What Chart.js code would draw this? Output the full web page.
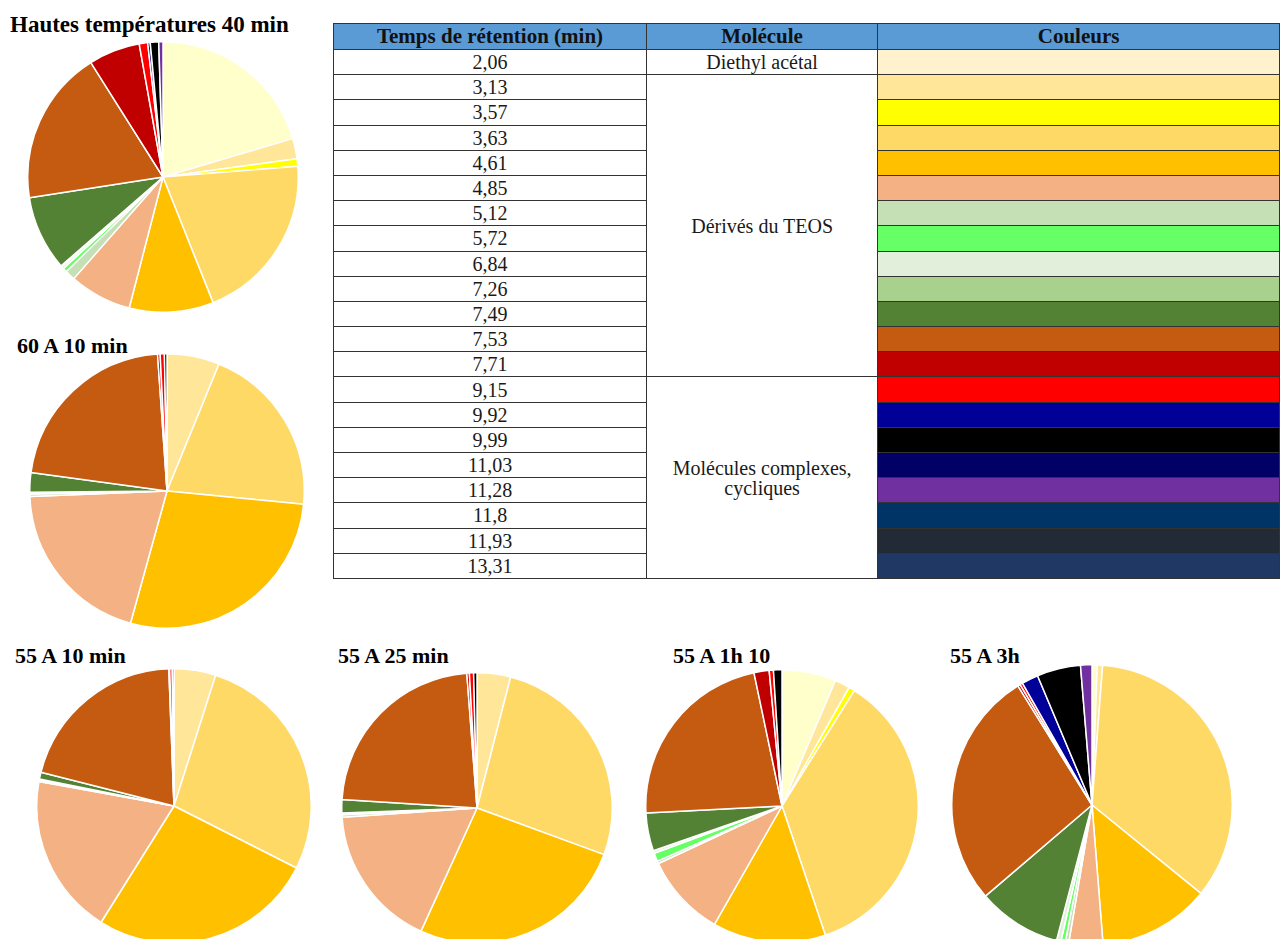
<!DOCTYPE html>
<html lang="fr">
<head>
<meta charset="utf-8">
<script src="https://cdn.jsdelivr.net/npm/chart.js@4.4.1/dist/chart.umd.min.js"></script>
<style>
  html, body { margin: 0; padding: 0; background: #fff; }
  body { width: 1280px; height: 939px; overflow: hidden; position: relative; font-family: "Liberation Serif", "Times New Roman", serif; }
  .titre { position: absolute; font-weight: bold; font-size: 22px; color: #000; white-space: nowrap; line-height: 1; }
  .camembert { position: absolute; }
  #tableau { position: absolute; left: 333px; top: 23px; border-collapse: collapse; table-layout: fixed; }
  #tableau td, #tableau th { font-family: "Liberation Serif", "Times New Roman", serif; font-size: 20px; color: #1a1a1a;
      border: 1.5px solid #333; padding: 0; text-align: center; vertical-align: middle; line-height: 1; white-space: nowrap; }
  #tableau th { background: #5b9bd5; height: 25px; font-weight: bold; font-size: 21px; color: #111; }
  #tableau td { height: 24.2px; }
</style>
</head>
<body>

<div class="titre" style="left:10px; top:13px; font-size:23px;">Hautes températures 40 min</div>
<div class="titre" style="left:17px; top:335px;">60 A 10 min</div>
<div class="titre" style="left:15px; top:645px;">55 A 10 min</div>
<div class="titre" style="left:338px; top:645px;">55 A 25 min</div>
<div class="titre" style="left:673px; top:645px;">55 A 1h 10</div>
<div class="titre" style="left:950px; top:645px;">55 A 3h</div>

<canvas id="pie1" class="camembert"></canvas>
<canvas id="pie2" class="camembert"></canvas>
<canvas id="pie3" class="camembert"></canvas>
<canvas id="pie4" class="camembert"></canvas>
<canvas id="pie5" class="camembert"></canvas>
<canvas id="pie6" class="camembert"></canvas>

<table id="tableau">
  <colgroup><col style="width:318px"><col style="width:234px"><col style="width:420px"></colgroup>
  <thead><tr><th>Temps de rétention (min)</th><th>Molécule</th><th>Couleurs</th></tr></thead>
  <tbody id="corps"></tbody>
</table>

<script>
// temps de rétention (min) = catégories
var tempsRetention = ['2,06', '3,13', '3,57', '3,63', '4,61', '4,85', '5,12', '5,72', '6,84', '7,26', '7,49',
                      '7,53', '7,71', '9,15', '9,92', '9,99', '11,03', '11,28', '11,8', '11,93', '13,31'];

// familles de molécules (nom, nombre de lignes)
var familles = [
    ['Diethyl acétal', 1],
    ['Dérivés du TEOS', 12],
    ['Molécules complexes,<br>cycliques', 8],
];

var couleurs = ['#FFF2CC', '#FFE699', '#FFFF00', '#FFD966', '#FFC000', '#F4B183', '#C5E0B4', '#66FF66', '#E2EFDA', '#A9D18E', '#548235',
                '#C55A11', '#C00000', '#FF0000', '#000099', '#000000', '#000066', '#7030A0', '#003366', '#222A35', '#203864'];

// dans les camemberts le diethyl acétal est un peu plus jaune
var couleursSecteurs = couleurs.slice();
couleursSecteurs[0] = '#FFFFCC';

var hautesTemp40 = [20.3, 2.4, 0.9, 20.1, 10.0, 7.4, 1.2, 0.5, 0.3, 0.1, 8.9, 18.4, 6.1, 1.0, 0.3, 1.0, 0, 0.5, 0, 0, 0];
var a60_10min    = [0, 6.2, 0, 20.4, 27.8, 20.1, 0.3, 0, 0.2, 0, 2.3, 21.8, 0.3, 0.5, 0, 0.3, 0, 0, 0, 0, 0];
var a55_10min    = [0, 4.9, 0, 27.5, 26.4, 18.9, 0.2, 0, 0.1, 0, 0.8, 20.4, 0.1, 0.3, 0, 0.2, 0, 0, 0, 0, 0];
var a55_25min    = [0, 4.0, 0, 26.6, 26.2, 17.1, 0.3, 0, 0.2, 0, 1.6, 22.8, 0.3, 0.5, 0, 0.4, 0, 0, 0, 0, 0];
var a55_1h10     = [6.4, 1.8, 0.7, 35.9, 13.4, 9.8, 0.3, 1.0, 0.3, 0, 4.5, 22.5, 1.8, 0.5, 0, 1.0, 0, 0, 0, 0, 0];
var a55_3h       = [0.6, 0.6, 0, 34.4, 12.8, 3.9, 0.4, 0.5, 0.5, 0, 9.6, 27.2, 0.3, 0.3, 1.9, 5.0, 0, 1.3, 0, 0, 0];

// --- tableau ---
var corps = document.getElementById('corps');
var famille = 0, restant = 0;
tempsRetention.forEach(function (t, i) {
    var tr = document.createElement('tr');
    var html = '<td>' + t + '</td>';
    if (restant === 0) {
        html += '<td rowspan="' + familles[famille][1] + '">' + familles[famille][0] + '</td>';
        restant = familles[famille][1];
        famille++;
    }
    restant--;
    html += '<td style="background:' + couleurs[i] + '"></td>';
    tr.innerHTML = html;
    corps.appendChild(tr);
});

// --- camemberts ---
var camembert = function (id, valeurs, cx, cy, r) {
    var el = document.getElementById(id);
    var taille = 2 * r + 2;
    el.width = taille;
    el.height = taille;
    el.style.left = (cx - taille / 2) + 'px';
    el.style.top = (cy - taille / 2) + 'px';
    new Chart(el, {
        type: 'pie',
        data: {
            labels: tempsRetention,
            datasets: [{
                data: valeurs,
                backgroundColor: couleursSecteurs,
                borderColor: '#ffffff',
                borderWidth: 1.5,
            }]
        },
        options: {
            responsive: false,
            animation: false,
            layout: { padding: 0 },
            plugins: {
                legend: { display: false },
                tooltip: { enabled: false },
            },
        }
    });
}

camembert('pie1', hautesTemp40, 163, 177, 135);
camembert('pie2', a60_10min, 167, 491, 137);
camembert('pie3', a55_10min, 174, 806, 137);
camembert('pie4', a55_25min, 477, 808, 135);
camembert('pie5', a55_1h10, 782, 806, 136);
camembert('pie6', a55_3h, 1092, 805, 140);
</script>
</body>
</html>
